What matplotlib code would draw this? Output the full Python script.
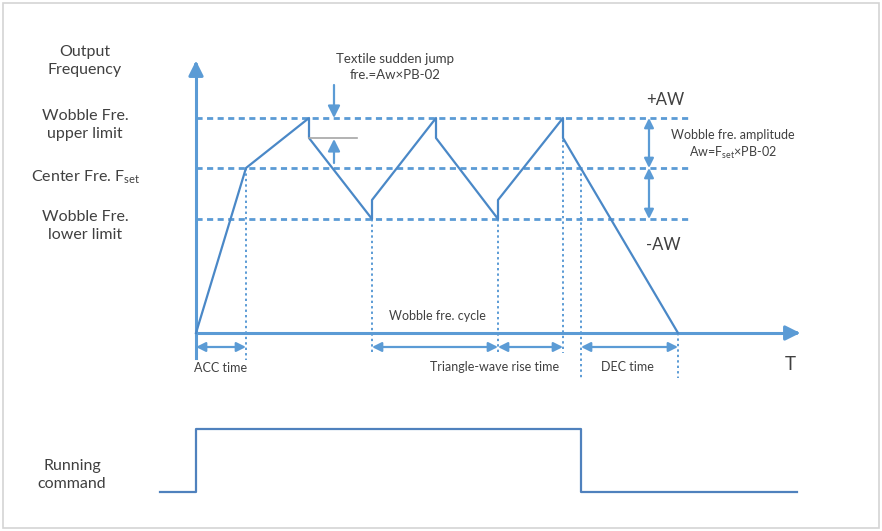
import matplotlib.pyplot as plt
from matplotlib.patches import Rectangle

plt.rcParams['font.family'] = ['Lato', 'DejaVu Sans']
plt.rcParams['mathtext.fontset'] = 'custom'
plt.rcParams['mathtext.rm'] = 'Lato'

BLUE = '#5b9bd5'
WAVE = '#4a88c7'
TXT = '#404040'

# diagram layout, in pixel units of the 882x531 picture
T0, T_AXIS_END = 196, 803
F_ZERO, F_TOP = 333, 58
F_UPPER, F_CENTER, F_LOWER = 118, 168, 219
LEVEL_X_END = 690

# output frequency waveform (time, frequency)
wave_t = [196, 246, 309, 309, 372, 372, 436, 436, 498, 498, 563, 563, 678]
wave_f = [333, 168, 118, 138, 219, 200, 118, 138, 219, 200, 118, 138, 333]

# running command step
run_t = [160, 196, 196, 581, 581, 797]
run_v = [492, 492, 429, 429, 492, 492]

# dotted markers: (x, y_top, y_bottom)
markers = [(246, 168, 360), (372, 219, 353), (498, 219, 353),
           (563, 118, 353), (581, 168, 378), (678, 333, 378)]

# time span arrows: (x_start, x_end)
spans = [(196, 246), (372, 498), (498, 563), (581, 678)]
SPAN_Y = 347

fig = plt.figure(figsize=(8.82, 5.31), dpi=100)
ax = fig.add_axes([0, 0, 1, 1])
ax.set_xlim(0, 882)
ax.set_ylim(531, 0)
ax.axis('off')

ax.add_patch(Rectangle((3, 3), 876, 525, fill=False, ec='#d4d4d4', lw=1.2))

# axes
ax.plot([T0, T0], [358, F_TOP + 10], color=BLUE, lw=2.2)
ax.annotate('', xy=(T0, F_TOP), xytext=(T0, F_TOP + 12),
            arrowprops=dict(arrowstyle='-|>', color=BLUE, lw=2.2, mutation_scale=22))
ax.plot([T0, T_AXIS_END - 10], [F_ZERO, F_ZERO], color=BLUE, lw=2.2)
ax.annotate('', xy=(T_AXIS_END, F_ZERO), xytext=(T_AXIS_END - 12, F_ZERO),
            arrowprops=dict(arrowstyle='-|>', color=BLUE, lw=2.2, mutation_scale=22))

# level lines
for lvl in [F_UPPER, F_CENTER, F_LOWER]:
    ax.plot([T0, LEVEL_X_END], [lvl, lvl], color=BLUE, lw=2, dashes=(2.2, 1.6))

for x, y0, y1 in markers:
    ax.plot([x, x], [y0, y1], color=BLUE, lw=1.4, dashes=(1.2, 1.6))

ax.plot(wave_t, wave_f, color=WAVE, lw=1.6)

# jump marker
ax.plot([309, 357], [138, 138], color='#a6a6a6', lw=1.2)
ax.annotate('', xy=(334, F_UPPER), xytext=(334, 85),
            arrowprops=dict(arrowstyle='-|>', color=BLUE, lw=1.6, mutation_scale=18,
                            shrinkA=0, shrinkB=0))
ax.annotate('', xy=(334, 139), xytext=(334, 163),
            arrowprops=dict(arrowstyle='-|>', color=BLUE, lw=1.6, mutation_scale=18,
                            shrinkA=0, shrinkB=0))

# amplitude arrows
for a, b in [(F_UPPER, F_CENTER), (F_CENTER, F_LOWER)]:
    ax.annotate('', xy=(649, a), xytext=(649, b),
                arrowprops=dict(arrowstyle='<|-|>', color=BLUE, lw=1.6, mutation_scale=14,
                                shrinkA=0, shrinkB=0))

for a, b in spans:
    ax.annotate('', xy=(a, SPAN_Y), xytext=(b, SPAN_Y),
                arrowprops=dict(arrowstyle='<|-|>', color=BLUE, lw=1.6, mutation_scale=14,
                                shrinkA=0, shrinkB=0))

ax.plot(run_t, run_v, color='#4f81bd', lw=1.6)

# labels
big = dict(color=TXT, fontsize=11.5, ha='center', va='center')
small = dict(color=TXT, fontsize=9, ha='center', va='center')
ax.text(85, 61, 'Output\nFrequency', linespacing=1.3, **big)
ax.text(85, 125, 'Wobble Fre.\nupper limit', linespacing=1.3, **big)
ax.text(86, 177, 'Center Fre. F$_\\mathrm{set}$', **big)
ax.text(85, 226, 'Wobble Fre.\nlower limit', linespacing=1.3, **big)
ax.text(72, 475, 'Running\ncommand', linespacing=1.3, **big)

ax.text(395, 67, 'Textile sudden jump\nfre.=Aw\u00d7PB-02', linespacing=1.4,
        color=TXT, fontsize=9.5, ha='center', va='center')
ax.text(665, 100, '+AW', color=TXT, fontsize=12, ha='center', va='center')
ax.text(663, 245, '-AW', color=TXT, fontsize=12, ha='center', va='center')
ax.text(733, 135, 'Wobble fre. amplitude', **small)
ax.text(733, 153, 'Aw=F$_\\mathrm{set}$\u00d7PB-02', **small)

ax.text(437, 316, 'Wobble fre. cycle', **small)
ax.text(221, 368, 'ACC time', **small)
ax.text(495, 367, 'Triangle-wave rise time', **small)
ax.text(627, 367, 'DEC time', **small)
ax.text(790, 364, 'T', color=TXT, fontsize=13.5, ha='center', va='center')

fig.savefig('out.png', dpi=100)
